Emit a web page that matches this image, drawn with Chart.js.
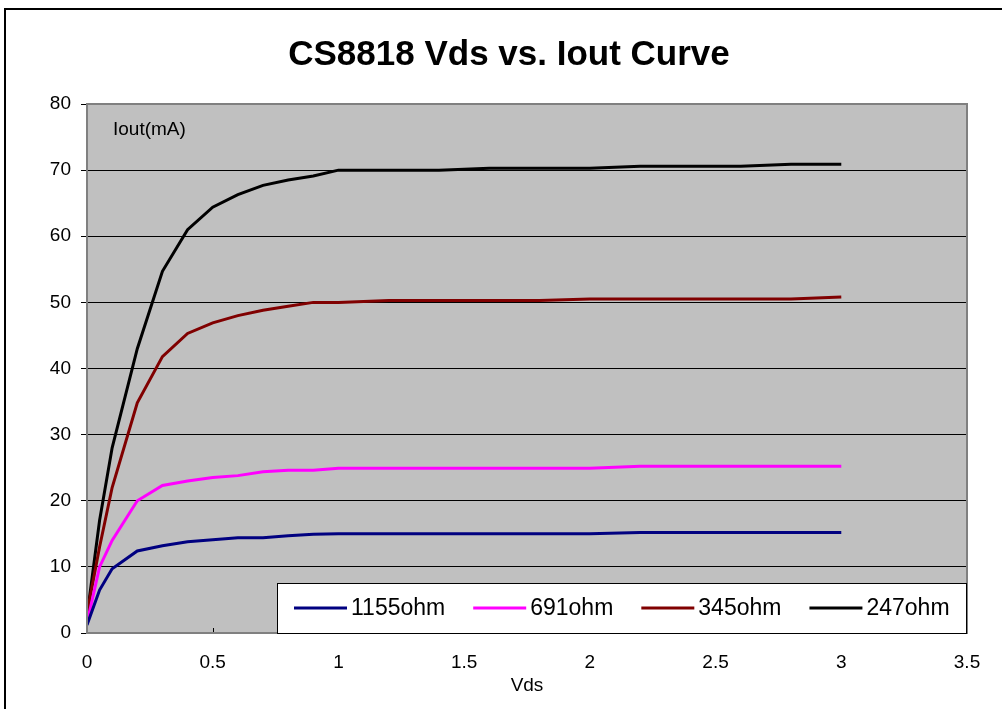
<!DOCTYPE html>
<html>
<head>
<meta charset="utf-8">
<script src="https://cdn.jsdelivr.net/npm/chart.js@4/dist/chart.umd.min.js"></script>
<style>
  body { margin: 0; background: #fff; }
  #wrap { position: relative; width: 1002px; height: 709px; }
  #frame { position: absolute; left: 4px; top: 8px; width: 1010px; height: 720px; border: 2px solid #000; pointer-events: none; }
</style>
</head>
<body>
<div id="wrap">
  <canvas id="ivChart" width="1002" height="709"></canvas>
  <div id="frame"></div>
</div>
<script>
// Vds sweep (V)
var vds = [0, 0.05, 0.1, 0.2, 0.3, 0.4, 0.5, 0.6, 0.7, 0.8, 0.9, 1.0, 1.2, 1.4, 1.6, 1.8, 2.0, 2.2, 2.4, 2.6, 2.8, 3.0];

// Iout (mA) for each load resistor
var iout1155 = [1.2, 6.5, 9.7, 12.4, 13.2, 13.8, 14.1, 14.4, 14.4, 14.7, 14.95, 15, 15, 15, 15, 15, 15, 15.2, 15.2, 15.2, 15.2, 15.2];
var iout691  = [1.5, 10, 14, 20, 22.3, 23, 23.5, 23.8, 24.4, 24.6, 24.6, 24.9, 24.9, 24.9, 24.9, 24.9, 24.9, 25.2, 25.2, 25.2, 25.2, 25.2];
var iout345  = [3, 13, 22, 34.8, 41.8, 45.3, 46.9, 48, 48.8, 49.4, 50, 50, 50.3, 50.3, 50.3, 50.3, 50.5, 50.5, 50.5, 50.5, 50.5, 50.8];
var iout247  = [2.5, 17, 28, 43, 54.7, 61, 64.4, 66.3, 67.7, 68.5, 69.1, 70, 70, 70, 70.3, 70.3, 70.3, 70.6, 70.6, 70.6, 70.9, 70.9];

var seriesNames = ['1155ohm', '691ohm', '345ohm', '247ohm'];
var seriesColors = ['#000080', '#FF00FF', '#800000', '#000000'];
var chartTitle = 'CS8818 Vds vs. Iout Curve';

var FONT = '"Liberation Sans", Arial, sans-serif';

function pts(ys) {
  return vds.map(function (v, i) { return { x: v, y: ys[i] }; });
}

var allSeries = [iout1155, iout691, iout345, iout247];
var datasets = allSeries.map(function (ys, i) {
  return {
    label: seriesNames[i],
    data: pts(ys),
    borderColor: seriesColors[i],
    backgroundColor: seriesColors[i],
    borderWidth: 3,
    pointRadius: 0,
    tension: 0
  };
});

// grey plot area, frame, inward x ticks, title and unit label
var plotBg = {
  id: 'plotBg',
  beforeDraw: function (chart) {
    var a = chart.chartArea, c = chart.ctx;
    c.save();
    c.fillStyle = '#C0C0C0';
    c.fillRect(a.left, a.top, a.right - a.left, a.bottom - a.top);
    c.restore();
  },
  afterDraw: function (chart) {
    var a = chart.chartArea, c = chart.ctx;
    var xs = chart.scales.x;
    c.save();
    c.strokeStyle = '#000';
    c.lineWidth = 1;
    xs.ticks.forEach(function (t) {
      var px = Math.round(xs.getPixelForValue(t.value)) + 0.5;
      c.beginPath();
      c.moveTo(px, a.bottom);
      c.lineTo(px, a.bottom - 5);
      c.stroke();
    });
    c.strokeStyle = '#808080';
    c.lineWidth = 2;
    c.strokeRect(a.left, a.top, a.right - a.left, a.bottom - a.top);
    c.fillStyle = '#000';
    c.textBaseline = 'middle';
    c.textAlign = 'center';
    c.font = 'bold 35px ' + FONT;
    c.fillText(chartTitle, 509, 55);
    c.textAlign = 'left';
    c.font = '19px ' + FONT;
    c.fillText('Iout(mA)', a.left + 26, a.top + 26);
    c.restore();
  }
};

// legend box inside the plot, bottom right
var boxLegend = {
  id: 'boxLegend',
  afterDraw: function (chart) {
    var a = chart.chartArea, c = chart.ctx;
    var bx = 277, by = 583, bw = a.right - 1 - bx, bh = a.bottom - by;
    c.save();
    c.fillStyle = '#fff';
    c.fillRect(bx, by, bw, bh);
    c.strokeStyle = '#000';
    c.lineWidth = 1;
    c.strokeRect(bx + 0.5, by + 0.5, bw, bh);
    c.font = '23px ' + FONT;
    c.textBaseline = 'middle';
    c.textAlign = 'left';
    var x = 294, y = by + bh / 2;
    chart.data.datasets.forEach(function (ds) {
      c.strokeStyle = ds.borderColor;
      c.lineWidth = 3;
      c.beginPath();
      c.moveTo(x, y);
      c.lineTo(x + 53, y);
      c.stroke();
      c.fillStyle = '#000';
      c.fillText(ds.label, x + 57, y + 1);
      x += 57 + c.measureText(ds.label).width + 28;
    });
    c.restore();
  }
};

var ctx = document.getElementById('ivChart');
var ivChart = new Chart(ctx, {
  type: 'line',
  data: { datasets: datasets },
  options: {
    responsive: false,
    animation: false,
    layout: { padding: { left: 0, right: 35, top: 104, bottom: 0 } },
    plugins: {
      legend: { display: false },
      tooltip: { enabled: false },
      title: { display: false }
    },
    scales: {
      x: {
        type: 'linear',
        min: 0,
        max: 3.5,
        ticks: {
          stepSize: 0.5,
          color: '#000',
          padding: 18,
          font: { family: FONT, size: 19 },
          callback: function (v) { return String(v); }
        },
        grid: { drawOnChartArea: false, drawTicks: false },
        border: { display: false },
        title: {
          display: true,
          text: 'Vds',
          color: '#000',
          font: { family: FONT, size: 19 },
          padding: { top: 0, bottom: 12 }
        },
        afterFit: function (s) { s.height = 76; }
      },
      y: {
        min: 0,
        max: 80,
        ticks: {
          stepSize: 10,
          color: '#000',
          padding: 10,
          font: { family: FONT, size: 19 }
        },
        grid: { color: '#000', lineWidth: 1, tickLength: 6 },
        border: { display: false },
        afterFit: function (s) { s.width = 87; }
      }
    }
  },
  plugins: [plotBg, boxLegend]
});
</script>
</body>
</html>
